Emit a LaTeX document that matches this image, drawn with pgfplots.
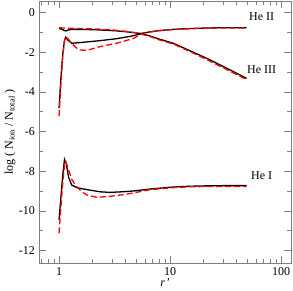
\documentclass[border=0pt]{standalone}
\usepackage{pgfplots}
\pgfplotsset{compat=1.18}
\usepackage{fontspec}
\setmainfont{Liberation Serif}
\begin{document}
\fontsize{12bp}{14bp}\selectfont
\begin{tikzpicture}
\begin{axis}[
  scale only axis,
  width=252bp, height=262bp,
  xmode=log,
  xmin=0.66, xmax=123,
  ymin=-12.62, ymax=0.59,
  xtick={1,10,100},
  xticklabels={1,10,100},
  minor xtick={0.7,0.8,0.9,2,3,4,5,6,7,8,9,20,30,40,50,60,70,80,90},
  ytick={-12,-10,-8,-6,-4,-2,0},
  minor ytick={-11,-9,-7,-5,-3,-1},
  tick align=inside,
  major tick length=7bp,
  minor tick length=4bp,
  axis line style={black!50, line width=0.8bp},
  every tick/.style={black!50, line width=0.8bp},
  /pgf/number format/assume math mode=true,
  tick label style={font=\fontsize{12bp}{14bp}\selectfont},
  yticklabel style={inner xsep=0pt, xshift=-4bp},
  xticklabel style={inner ysep=0pt, yshift=-4bp},
  label style={font=\fontsize{12bp}{14bp}\selectfont},
  xlabel={\itshape r’},
  ylabel={log ( N\textsubscript{ion} / N\textsubscript{total} )},
  xlabel style={at={(axis description cs:0.5,0)}, anchor=center, yshift=-20bp},
  ylabel style={at={(axis description cs:0,0.5)}, anchor=center, yshift=29bp},
  clip=false,
]
% He II
\addplot[black, line width=1.3bp] coordinates {
 (1.0,-0.81) (1.05,-0.82) (1.10,-0.88) (1.15,-0.92) (1.2,-0.88) (1.3,-0.84) (1.6,-0.84) (2.34,-0.87) (3.2,-0.91) (4.0,-0.96) (4.8,-1.01) (5.5,-1.05)
 (6.5,-0.97) (8,-0.90) (10.7,-0.84) (15,-0.80) (21.4,-0.77) (30,-0.76) (49,-0.76)};
\addplot[red, line width=1.3bp, dash pattern=on 6bp off 3bp] coordinates {
 (1.0,-0.76) (1.1,-0.77) (1.2,-0.79) (1.3,-0.79) (1.6,-0.80) (2.34,-0.83) (3.2,-0.88) (4.0,-0.94) (4.8,-1.00) (5.5,-1.05)
 (6.5,-0.98) (8,-0.91) (10.7,-0.85) (15,-0.81) (21.4,-0.78) (30,-0.77) (49,-0.77)};
% He III
\addplot[black, line width=1.3bp] coordinates {
 (1.0,-4.82) (1.04,-3.3) (1.08,-2.1) (1.12,-1.40) (1.149,-1.24) (1.2,-1.38) (1.3,-1.54) (1.45,-1.52) (1.66,-1.49) (2.34,-1.41) (3.3,-1.31) (4.5,-1.18) (5.5,-1.06)
 (6.5,-1.16) (8,-1.33) (10.7,-1.54) (15,-1.91) (21.4,-2.30) (30,-2.71) (40,-3.06) (49,-3.31)};
\addplot[red, line width=1.3bp, dash pattern=on 6bp off 3bp] coordinates {
 (1.0,-5.21) (1.04,-3.6) (1.08,-2.2) (1.12,-1.40) (1.149,-1.22) (1.2,-1.30) (1.3,-1.54) (1.42,-1.76) (1.55,-1.88) (1.78,-1.90) (2.34,-1.71) (3.3,-1.54) (4.67,-1.30) (5.5,-1.08)
 (6.5,-1.19) (8,-1.37) (10.7,-1.58) (15,-1.95) (21.4,-2.36) (30,-2.77) (40,-3.12) (49,-3.38)};
% He I
\addplot[black, line width=1.3bp] coordinates {
 (1.0,-10.45) (1.04,-9.3) (1.08,-8.2) (1.12,-7.39) (1.16,-7.6) (1.22,-8.3) (1.30,-8.69) (1.45,-8.82) (1.66,-8.89) (2.34,-9.03) (2.88,-9.06) (3.7,-9.03) (4.67,-8.99) (6.6,-8.89)
 (10.7,-8.79) (15,-8.75) (21.4,-8.73) (30,-8.72) (49,-8.72)};
\addplot[red, line width=1.3bp, dash pattern=on 6bp off 3bp] coordinates {
 (1.0,-11.12) (1.04,-9.8) (1.08,-8.6) (1.12,-7.7) (1.149,-7.51) (1.2,-7.8) (1.3,-8.4) (1.44,-8.77) (1.6,-9.02) (1.78,-9.19) (2.19,-9.31) (2.88,-9.26) (3.7,-9.18) (4.67,-9.09) (6.6,-8.92)
 (10.7,-8.82) (15,-8.78) (21.4,-8.76) (30,-8.76) (49,-8.76)};
\node[font=\fontsize{12bp}{14bp}\selectfont] at (axis cs:67,-0.22) {He II};
\node[font=\fontsize{12bp}{14bp}\selectfont] at (axis cs:67,-2.89) {He III};
\node[font=\fontsize{12bp}{14bp}\selectfont] at (axis cs:67,-8.24) {He I};
\end{axis}
\pgfresetboundingbox
\path[use as bounding box] ([shift={(-39bp,-28bp)}]current axis.south west) rectangle ([shift={(2bp,1bp)}]current axis.north east);
\end{tikzpicture}
\end{document}
